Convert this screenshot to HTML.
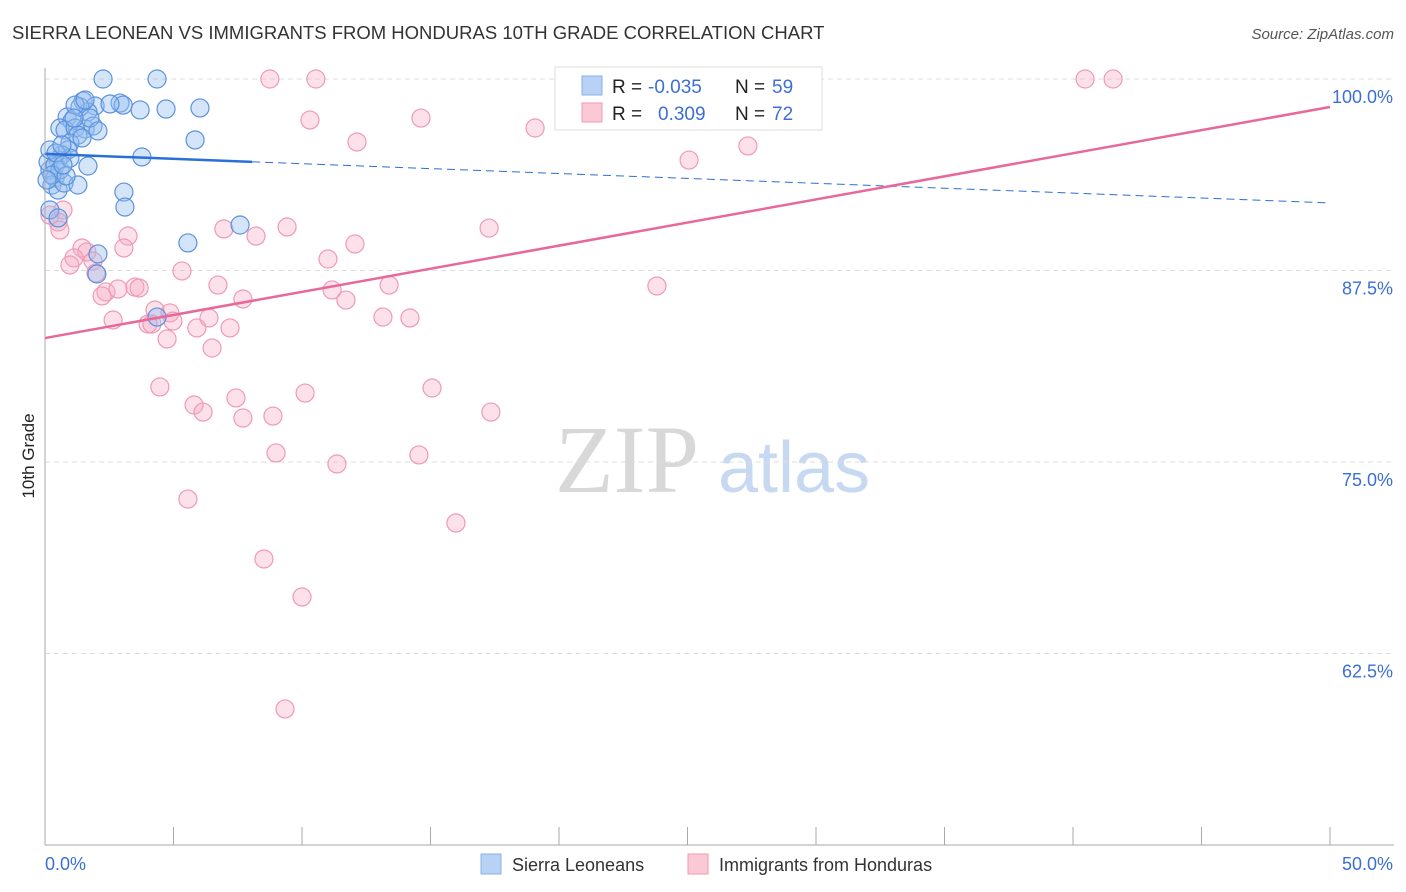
<!DOCTYPE html>
<html><head><meta charset="utf-8"><style>
body{margin:0;background:#fff;font-family:"Liberation Sans",sans-serif;}
svg{display:block}
</style></head><body>
<svg id="c" width="1406" height="892">
<text x="12" y="39" font-size="18.5" fill="#333">SIERRA LEONEAN VS IMMIGRANTS FROM HONDURAS 10TH GRADE CORRELATION CHART</text>
<text x="1394" y="39" font-size="15" fill="#555" font-style="italic" text-anchor="end">Source: ZipAtlas.com</text>
<text x="34" y="456" font-size="17" fill="#222" transform="rotate(-90 34 456)" text-anchor="middle">10th Grade</text>
<g>
<text x="555" y="492" font-size="96" font-family="Liberation Serif,serif" fill="#d8d8d8">ZIP</text>
<text x="718" y="492" font-size="72" fill="#c6d9f1">atlas</text>
</g>
<g id="grid"></g><g id="ticks"></g><g id="pts"></g><g id="trend"></g>
<line x1="45" y1="68" x2="45" y2="845" stroke="#aaa"/>
<line x1="45" y1="845" x2="1394" y2="845" stroke="#aaa"/>
<text x="45" y="870" font-size="18" fill="#3b6fd4">0.0%</text>
<text x="1393" y="870" font-size="18" fill="#3b6fd4" text-anchor="end">50.0%</text>
<g>
<rect x="555" y="67" width="267" height="63" fill="#fff" stroke="#ddd"/>
<rect x="582" y="76" width="20" height="19" fill="#b7d2f5" stroke="#8ab0e8"/>
<rect x="582" y="103" width="20" height="19" fill="#fbc8d6" stroke="#f29ab3"/>
<text x="612" y="93" font-size="19" fill="#222">R = </text><text x="648" y="93" font-size="19" fill="#3b6fd4">-0.035</text>
<text x="735" y="93" font-size="19" fill="#222">N = </text><text x="772" y="93" font-size="19" fill="#3b6fd4">59</text>
<text x="612" y="120" font-size="19" fill="#222">R = </text><text x="658" y="120" font-size="19" fill="#3b6fd4">0.309</text>
<text x="735" y="120" font-size="19" fill="#222">N = </text><text x="772" y="120" font-size="19" fill="#3b6fd4">72</text>
</g>
<g>
<rect x="481" y="854" width="20" height="20" fill="#b7d2f5" stroke="#8ab0e8"/>
<text x="512" y="871" font-size="18" fill="#333">Sierra Leoneans</text>
<rect x="688" y="854" width="20" height="20" fill="#fbc8d6" stroke="#f29ab3"/>
<text x="719" y="871" font-size="18" fill="#333">Immigrants from Honduras</text>
</g>
</svg>
<script>
const yTicks=[100,87.5,75,62.5];
const yTickLabels=["100.0%","87.5%","75.0%","62.5%"];
const xTicks=[0,5,10,15,20,25,30,35,40,45,50];
const blueX=[2.26,4.36,1.48,1.95,2.92,3.04,3.70,4.71,6.03,0.86,1.05,1.67,1.36,0.58,0.78,1.17,1.56,1.87,1.28,0.97,0.89,0.66,0.51,0.19,0.39,0.27,0.51,0.74,1.28,1.67,3.77,5.84,3.07,3.11,0.19,0.51,2.06,2.02,4.36,5.56,7.59,0.12,0.39,0.58,0.27,0.82,0.97,1.17,1.75,1.44,2.06,0.19,0.43,0.66,1.13,2.53,1.56,0.08,0.70];
const blueY=[100,100,98.56,98.24,98.43,98.30,97.98,98.04,98.11,97.52,97.26,97.85,98.17,96.80,96.67,96.80,96.74,96.93,96.34,95.82,95.37,95.04,94.71,94.06,93.54,93.08,92.75,93.21,93.08,94.32,94.91,96.02,92.62,91.64,91.45,90.93,88.58,87.27,84.46,89.30,90.47,94.58,94.39,94.06,93.73,93.67,94.84,98.30,97.45,96.15,96.61,95.37,95.17,95.69,97.45,98.37,98.63,93.41,94.39];
const pinkX=[8.75,10.54,40.47,41.56,28.13,24.32,10.31,14.63,19.07,12.14,25.06,27.35,0.70,0.51,0.58,3.23,3.07,1.44,1.63,1.13,0.97,1.87,1.98,6.96,8.21,9.42,12.06,11.01,17.28,5.33,6.73,7.70,2.37,2.22,2.84,3.50,3.66,4.86,4.28,4.98,2.65,4.01,4.16,5.91,6.38,7.20,4.75,6.50,11.17,11.71,13.39,13.15,14.20,23.81,4.47,15.06,10.12,7.43,5.80,6.15,7.70,8.87,17.35,8.99,11.36,14.55,5.56,15.99,8.52,10.00,9.34,0.19];
const pinkY=[100,100,100,100,100,100,97.32,97.45,96.80,95.89,94.71,95.63,91.45,90.67,90.14,89.75,88.97,88.97,88.71,88.32,87.86,88.12,87.34,90.21,89.75,90.34,89.23,88.25,90.27,87.47,86.55,85.64,86.10,85.84,86.29,86.42,86.36,84.73,84.92,84.20,84.27,84.01,84.01,83.75,84.40,83.75,83.03,82.44,86.23,85.57,86.55,84.46,84.40,86.49,79.90,79.83,79.50,79.18,78.72,78.26,77.87,78.00,78.26,75.59,74.87,75.46,72.58,71.02,68.67,66.19,58.88,91.12];
const blueTrend=[95.11,91.91];
const pinkTrend=[83.09,98.17];
const NS="http://www.w3.org/2000/svg";
const sx=v=>45+v*25.7, sy=v=>79+(100-v)*15.32;
function mk(t,a,p){const e=document.createElementNS(NS,t);for(const k in a)e.setAttribute(k,a[k]);document.getElementById(p).appendChild(e);return e;}
yTicks.forEach((v,i)=>{
 const l=mk('line',{x1:45,x2:1394,y1:sy(v),y2:sy(v),stroke:'#ddd','stroke-dasharray':'5,4'},'grid');
 
 
 const t=mk('text',{x:1393,y:sy(v)+24,'font-size':18,fill:'#3b6fd4','text-anchor':'end'},'grid');
 t.textContent=yTickLabels[i];
 
 
});
xTicks.forEach(v=>{
 const l=mk('line',{x1:sx(v),x2:sx(v),y1:827,y2:845,stroke:'#aaa'},'ticks');
 
 
});
pinkX.forEach((x,i)=>{
 const c=mk('circle',{cx:sx(x),cy:sy(pinkY[i]),r:9,fill:'rgba(246,170,195,0.35)',stroke:'#ef9ab5','stroke-width':1.2},'pts');
 
 
});
blueX.forEach((x,i)=>{
 const c=mk('circle',{cx:sx(x),cy:sy(blueY[i]),r:9,fill:'rgba(150,190,240,0.4)',stroke:'#5b92de','stroke-width':1.2},'pts');
 
 
});
const bAt=x=>blueTrend[0]+(blueTrend[1]-blueTrend[0])*x/50;
let l=mk('line',{x1:sx(0),y1:sy(bAt(0)),x2:sx(8.06),y2:sy(bAt(8.06)),stroke:'#2a6fd6','stroke-width':2.5},'trend');


l=mk('line',{x1:sx(8.06),y1:sy(bAt(8.06)),x2:sx(50),y2:sy(bAt(50)),stroke:'#2a6fd6','stroke-width':1,'stroke-dasharray':'8,5'},'trend');


l=mk('line',{x1:sx(0),y1:sy(pinkTrend[0]),x2:sx(50),y2:sy(pinkTrend[1]),stroke:'#e8689a','stroke-width':2.5},'trend');


</script>
</body></html>
